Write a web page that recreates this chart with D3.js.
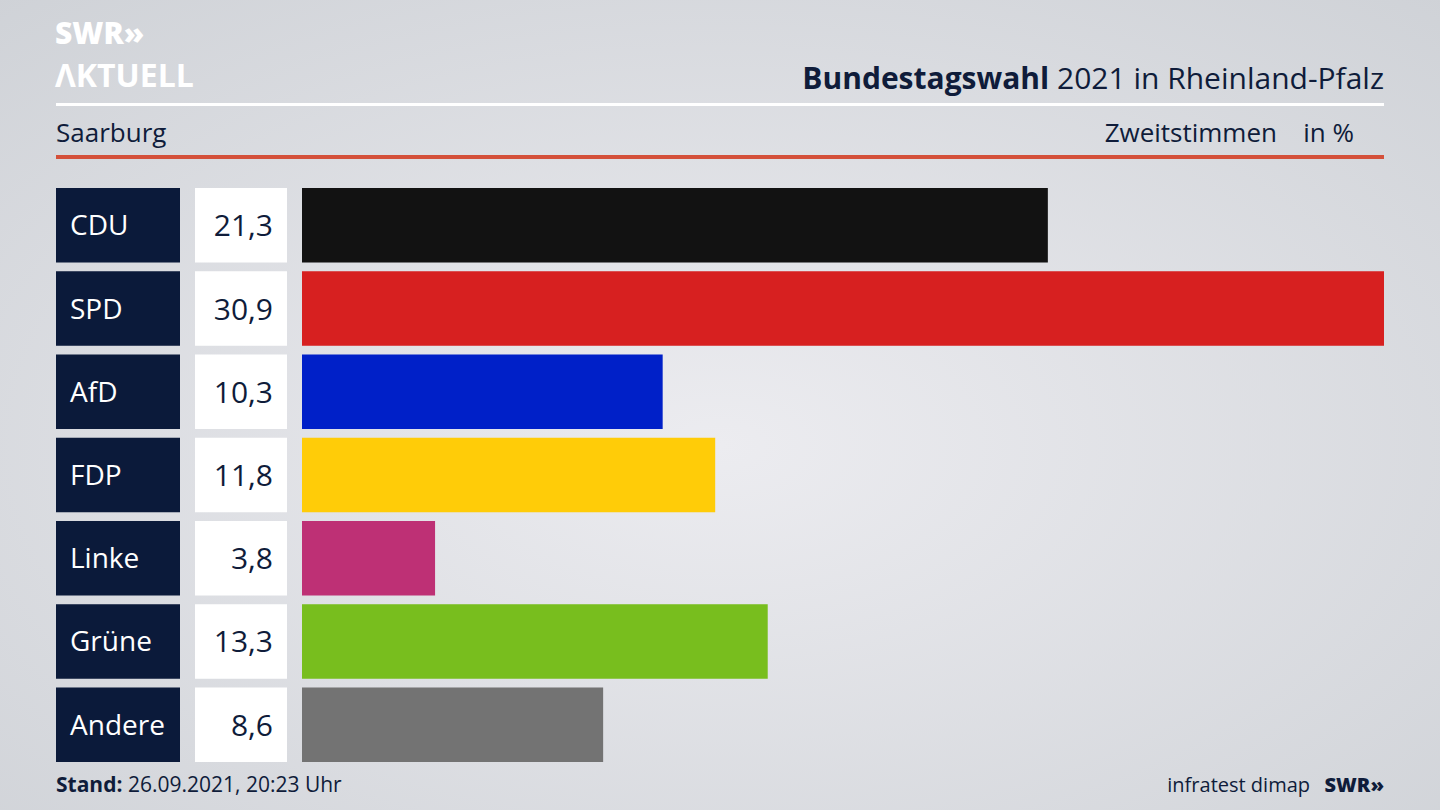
<!DOCTYPE html><html><head><meta charset="utf-8"><script src="https://cdn.jsdelivr.net/npm/d3@7"></script>
<style>body{margin:0}svg{display:block}text{font-family:"Open Sans",sans-serif}</style></head><body><svg width="1440" height="810"></svg>
<script>
const parties=["CDU","SPD","AfD","FDP","Linke","Grüne","Andere"];
const values=[21.3,30.9,10.3,11.8,3.8,13.3,8.6];
const colors=["#121212","#d72020","#0020c8","#ffcc08","#be3075","#78be1e","#737373"];
const svg=d3.select("svg");
const defs=svg.append("defs");
const g=defs.append("radialGradient").attr("id","bg").attr("cx","50%").attr("cy","55%").attr("r","75%");
g.append("stop").attr("offset","0%").attr("stop-color","#ececf0");
g.append("stop").attr("offset","100%").attr("stop-color","#cfd2d7");
svg.append("rect").attr("width",1440).attr("height",810).attr("fill","url(#bg)");
const navy="#0f1c3a";
svg.append("text").attr("x",55).attr("y",44).attr("font-size",30).attr("font-weight",800).attr("fill","#fff").attr("font-family","DejaVu Sans").text("SWR»");
svg.append("text").attr("x",55).attr("y",87).attr("font-size",32).attr("font-weight",700).attr("fill","#fff").text("ΛKTUELL");
svg.append("rect").attr("x",56).attr("y",103).attr("width",1328).attr("height",3).attr("fill","#fff");
const t=svg.append("text").attr("x",1384).attr("y",89).attr("text-anchor","end").attr("font-size",30).attr("fill",navy);
t.append("tspan").attr("font-weight",700).text("Bundestagswahl");t.append("tspan").text(" 2021 in Rheinland-Pfalz");
svg.append("text").attr("x",56).attr("y",142).attr("font-size",26).attr("fill",navy).text("Saarburg");
svg.append("text").attr("x",1277).attr("y",142).attr("text-anchor","end").attr("font-size",26).attr("fill",navy).text("Zweitstimmen");
svg.append("text").attr("x",1354).attr("y",142).attr("text-anchor","end").attr("font-size",26).attr("fill",navy).text("in %");
svg.append("rect").attr("x",56).attr("y",155).attr("width",1328).attr("height",4).attr("fill","#d4503a");
const x=d3.scaleLinear().domain([0,30.9]).range([302,1384]);
const y=d3.scaleBand().domain(parties).range([188,762]).paddingInner(0.105).paddingOuter(0);
const row=svg.selectAll(".r").data(parties).join("g");
row.append("rect").attr("x",56).attr("y",d=>y(d)).attr("width",124).attr("height",y.bandwidth()).attr("fill","#0b1a3a");
row.append("text").attr("x",70).attr("y",d=>y(d)+y.bandwidth()/2+10).attr("font-size",28).attr("fill","#fff").text(d=>d);
row.append("rect").attr("x",195).attr("y",d=>y(d)).attr("width",92).attr("height",y.bandwidth()).attr("fill","#fff");
row.append("text").attr("x",273).attr("y",d=>y(d)+y.bandwidth()/2+11).attr("text-anchor","end").attr("font-size",30).attr("fill",navy).text((d,i)=>String(values[i]).replace(".",","));
row.append("rect").attr("x",x(0)).attr("y",d=>y(d)).attr("width",(d,i)=>x(values[i])-x(0)).attr("height",y.bandwidth()).attr("fill",(d,i)=>colors[i]);
const f=svg.append("text").attr("x",56).attr("y",792).attr("font-size",21).attr("fill",navy);
f.append("tspan").attr("font-weight",700).text("Stand:");f.append("tspan").text(" 26.09.2021, 20:23 Uhr");
svg.append("text").attr("x",1310).attr("y",792).attr("text-anchor","end").attr("font-size",20).attr("fill",navy).text("infratest dimap");
svg.append("text").attr("x",1384).attr("y",792).attr("text-anchor","end").attr("font-size",20).attr("font-weight",800).attr("fill",navy).attr("font-family","DejaVu Sans").text("SWR»");
</script></body></html>
